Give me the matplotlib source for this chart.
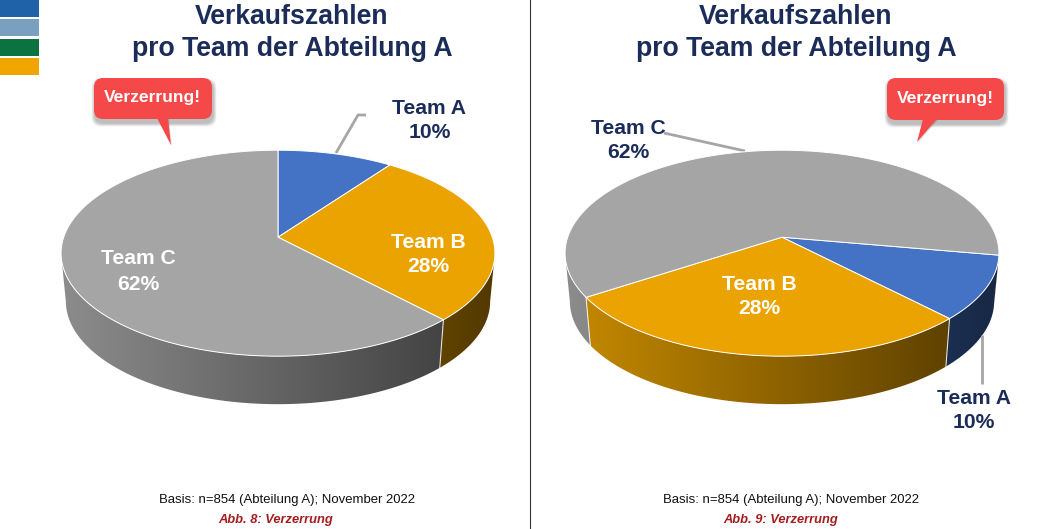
import numpy as np
import matplotlib
matplotlib.use("Agg")
import matplotlib.pyplot as plt
from matplotlib.patches import Polygon, FancyBboxPatch, Rectangle

# ---- data ----
teams = ["Team A", "Team B", "Team C"]
shares = [10, 28, 62]
title_lines = ["Verkaufszahlen", "pro Team der Abteilung A"]
basis_text = "Basis: n=854 (Abteilung A); November 2022"
captions = ["Abb. 8: Verzerrung", "Abb. 9: Verzerrung"]
callout_text = "Verzerrung!"
slice_colors = ["#4472C4", "#EAA300", "#A5A5A5"]
swatches = ["#1F62A8", "#7AA0C0", "#0B7340", "#F0A500"]

W, H = 1058, 529
NAVY = "#1B2C59"
fig = plt.figure(figsize=(W / 100, H / 100), dpi=100)
ax = fig.add_axes([0, 0, 1, 1])
SANS = "Liberation Sans"

# perspective projection of a flat disc
D, FX, FY, Y0 = 6.44, 1380.0, 4168.0, -410.0
DEPTH, SHRINK = 48.0, 0.978


def top_pt(cx, deg):
    t = np.radians(deg)
    w = D + np.cos(t)
    return cx + FX * np.sin(t) / w, Y0 + FY / w


def bottom_pt(cx, deg):
    x, y = top_pt(cx, deg)
    return cx + (x - cx) * SHRINK, y + DEPTH


def visible_runs(a0, a1):
    """Contiguous angle runs of a slice that lie on the front of the disc."""
    grid = np.arange(a0, a1, 0.5).tolist() + [a1]
    runs, cur = [], []
    for a in grid:
        if np.cos(np.radians(a)) < -1 / D:
            cur.append(a)
        elif cur:
            runs.append(cur)
            cur = []
    if cur:
        runs.append(cur)
    return [r for r in runs if len(r) > 1]


def draw_pie(cx, start):
    total = sum(shares)
    angles = [start]
    for v in shares:
        angles.append(angles[-1] + 360 * v / total)
    # side wall, front part only, with a left-to-right gradient
    ramp = np.linspace(0.85, 0.35, 256)
    for i, color in enumerate(slice_colors):
        rgb = np.array(matplotlib.colors.to_rgb(color))
        for th in visible_runs(angles[i], angles[i + 1]):
            poly = [top_pt(cx, a) for a in th] + [bottom_pt(cx, a) for a in reversed(th)]
            patch = Polygon(poly, closed=True, fc="none", ec="none", transform=ax.transData)
            ax.add_patch(patch)
            grad = (ramp[None, :, None] * rgb[None, None, :]).clip(0, 1)
            im = ax.imshow(grad, extent=(cx - 217, cx + 217, 420, 230), aspect="auto",
                           interpolation="bilinear", zorder=2)
            im.set_clip_path(patch)
    # wall edges
    for a in angles[:-1]:
        if np.cos(np.radians(a)) < -0.25:
            p0, p1 = top_pt(cx, a), bottom_pt(cx, a)
            ax.plot([p0[0], p1[0]], [p0[1], p1[1]], color="white", lw=0.8, alpha=0.8, zorder=3)
    # top face
    apex = (cx, Y0 + FY / D)
    for i, color in enumerate(slice_colors):
        th = np.linspace(angles[i], angles[i + 1], 200)
        pts = [apex] + [top_pt(cx, a) for a in th]
        ax.add_patch(Polygon(pts, closed=True, fc=color, ec="white", lw=0.7,
                             joinstyle="round", zorder=4))


def callout(x0, y0, x1, y1, tail):
    w, h = x1 - x0, y1 - y0
    for k in range(7, 0, -1):
        ax.add_patch(FancyBboxPatch((x0 + 1 - k / 2, y0 + 4 - k / 2), w + k, h + k,
                                    boxstyle="round,pad=0,rounding_size=9",
                                    fc="black", ec="none", alpha=0.04, zorder=5))
    ax.add_patch(Polygon([(tail[0] + 2, y1), (tail[1] + 1, y1), (tail[2] + 1, tail[3] + 1)],
                         closed=True, fc="black", ec="none", alpha=0.12, zorder=5))
    ax.add_patch(FancyBboxPatch((x0, y0), w, h, boxstyle="round,pad=0,rounding_size=9",
                                fc="#F54848", ec="none", zorder=6))
    ax.add_patch(Polygon([(tail[0], y1 - 1), (tail[1], y1 - 1), (tail[2], tail[3])],
                         closed=True, fc="#F54848", ec="none", zorder=6))
    ax.text((x0 + x1) / 2 - 0.5, (y0 + y1) / 2 - 1, callout_text, color="white",
            family=SANS, weight="bold", fontsize=12.6, ha="center", va="center", zorder=7)


def label(x, y1, y2, team, share, color):
    ax.text(x, y1 + 1, team, color=color, family=SANS, weight="bold", fontsize=15.2,
            ha="center", va="center", zorder=8)
    ax.text(x, y2 + 1, f"{share}%", color=color, family=SANS, weight="bold", fontsize=15.2,
            ha="center", va="center", zorder=8)


def leader(xs, ys):
    ax.plot(xs, ys, color="#A6A6A6", lw=2, solid_capstyle="butt", zorder=1 if ys[0] < 150 else 3.5)


# swatches and divider
for y, c in zip([0, 19, 39, 58], swatches):
    ax.add_patch(Rectangle((0, y), 39, 17, fc=c, ec="none"))
ax.plot([529.5, 529.5], [0, H], color="#333333", lw=0.8)

# titles and footers
for cx, cap, capx in [(292, captions[0], 276), (796, captions[1], 781)]:
    ax.text(cx, 17, title_lines[0], color=NAVY, family=SANS, weight="bold", fontsize=19.2,
            ha="center", va="center")
    ax.text(cx, 49, title_lines[1], color=NAVY, family=SANS, weight="bold", fontsize=19.2,
            ha="center", va="center")
    ax.text(cx - 5, 500, basis_text, color="#111111", family=SANS, fontsize=9.45,
            ha="center", va="center")
    ax.text(capx, 520, cap, color="#A51C1C", family=SANS, weight="bold", style="italic",
            fontsize=9.3, ha="center", va="center")

# left pie
draw_pie(278, 0)
leader([336, 358, 366], [153, 115, 115])
label(429.5, 108, 132, teams[0], shares[0], NAVY)
label(428, 241, 266, teams[1], shares[1], "white")
label(138, 258, 283, teams[2], shares[2], "white")
callout(94, 78, 212, 119, (157, 168, 171, 145))

# right pie
draw_pie(782, 100)
leader([664, 745], [133, 151])
leader([982, 982], [335, 384])
label(974, 398, 422, teams[0], shares[0], NAVY)
label(759, 284, 308, teams[1], shares[1], "white")
label(628, 127, 151, teams[2], shares[2], NAVY)
callout(887, 78, 1004, 120, (923, 937, 917, 142))

ax.set_xlim(0, W)
ax.set_ylim(H, 0)
ax.axis("off")
fig.savefig("out.png", dpi=100, facecolor="white")
